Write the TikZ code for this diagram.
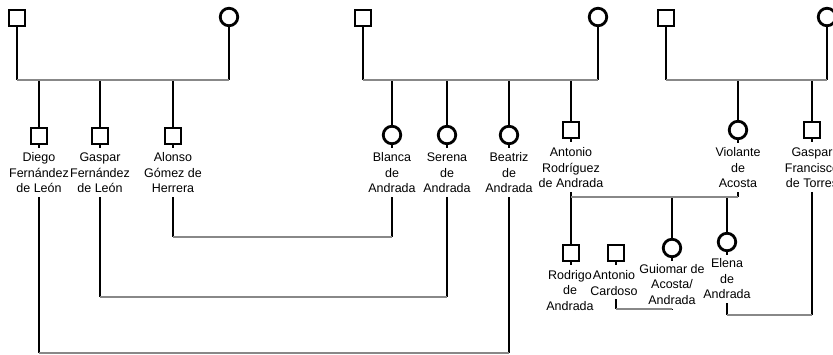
\documentclass[tikz,border=0pt]{standalone}
\usepackage{fontspec}
\setmainfont{Liberation Sans}
\definecolor{bargray}{HTML}{888888}
\begin{document}
\begin{tikzpicture}[x=1pt,y=-1pt,
  male/.style={draw, rectangle, line width=2.8pt, minimum size=16pt, inner sep=0pt},
  female/.style={draw, circle, line width=2.8pt, minimum size=17.5pt, inner sep=0pt},
  lbl/.style={font=\fontsize{12.5}{15.5}\selectfont, align=center, inner sep=0pt, outer sep=4pt},
  kin/.style={line width=2.4pt, black},
  bar/.style={line width=2.8pt, bargray}]
\useasboundingbox (0,0) rectangle (833,355);

% generation 1
\node[male] (p1) at (17,18) {};
\node[female] (p2) at (229,17) {};
\node[male] (p3) at (363,18) {};
\node[female] (p4) at (598,17) {};
\node[male] (p5) at (666,18) {};
\node[female] (p6) at (827,17) {};

% levels
\coordinate (lv0) at (0,80);
\coordinate (lv1) at (0,197);
\coordinate (m1) at (0,237);
\coordinate (m2) at (0,297);
\coordinate (m3) at (0,353);
\coordinate (m4) at (0,309);
\coordinate (m5) at (0,315);

% generation 2
\node[male] (diego) at (39,136) {};
\node[male] (gaspar) at (100,136) {};
\node[male] (alonso) at (173,136) {};
\node[female] (blanca) at (392,135) {};
\node[female] (serena) at (447,135) {};
\node[female] (beatriz) at (509,135) {};
\node[male] (antonio) at (571,130) {};
\node[female] (violante) at (738,130) {};
\node[male] (gaspart) at (812,130) {};

\node[lbl] (diegoL) at (39,173) {Diego\\Fernández\\de León};
\node[lbl] (gasparL) at (100,173) {Gaspar\\Fernández\\de León};
\node[lbl] (alonsoL) at (173,173) {Alonso\\Gómez de\\Herrera};
\node[lbl] (blancaL) at (392,173) {Blanca\\de\\Andrada};
\node[lbl] (serenaL) at (447,173) {Serena\\de\\Andrada};
\node[lbl] (beatrizL) at (509,173) {Beatriz\\de\\Andrada};
\node[lbl] (antonioL) at (571,168) {Antonio\\Rodríguez\\de Andrada};
\node[lbl] (violanteL) at (738,168) {Violante\\de\\Acosta};
\node[lbl] (gaspartL) at (812,168) {Gaspar\\Francisco\\de Torres};

% generation 3
\node[male] (rodrigo) at (571,253) {};
\node[male] (cardoso) at (616,253) {};
\node[female] (guiomar) at (672,248) {};
\node[female] (elena) at (727,242) {};

\node[lbl] (rodrigoL) at (570,290.5) {Rodrigo\\de\\Andrada};
\node[lbl] (cardosoL) at (614,283) {Antonio\\Cardoso};
\node[lbl] (guiomarL) at (672,284.5) {Guiomar de\\Acosta/\\Andrada};
\node[lbl] (elenaL) at (727,279) {Elena\\de\\Andrada};

% ticks under symbols
\foreach \n in {diego,gaspar,alonso,blanca,serena,beatriz,antonio,violante,gaspart,rodrigo,cardoso,guiomar,elena}
  \draw[kin] (\n.south) -- ++(0,3);

% parents to sibling bars
\foreach \n in {p1,p2,p3,p4,p5,p6}
  \draw[kin] (\n) -- (\n |- lv0);
\foreach \n in {diego,gaspar,alonso,blanca,serena,beatriz,antonio,violante,gaspart}
  \draw[kin] (\n |- lv0) -- (\n);
\draw[bar] (p1 |- lv0) -- (p2 |- lv0);
\draw[bar] (p3 |- lv0) -- (p4 |- lv0);
\draw[bar] (p5 |- lv0) -- (p6 |- lv0);

% marriages of generation 2
\draw[kin] (alonsoL.south) -- (alonsoL.south |- m1);
\draw[kin] (blancaL.south) -- (blancaL.south |- m1);
\draw[bar] (alonsoL.south |- m1) -- (blancaL.south |- m1);

\draw[kin] (gasparL.south) -- (gasparL.south |- m2);
\draw[kin] (serenaL.south) -- (serenaL.south |- m2);
\draw[bar] (gasparL.south |- m2) -- (serenaL.south |- m2);

\draw[kin] (diegoL.south) -- (diegoL.south |- m3);
\draw[kin] (beatrizL.south) -- (beatrizL.south |- m3);
\draw[bar] (diegoL.south |- m3) -- (beatrizL.south |- m3);

\draw[kin] (antonioL.south) -- (antonioL.south |- lv1);
\draw[kin] (violanteL.south) -- (violanteL.south |- lv1);
\foreach \n in {rodrigo,guiomar,elena}
  \draw[kin] (\n |- lv1) -- (\n);
\draw[bar] (antonioL.south |- lv1) -- (violanteL.south |- lv1);

% marriages of generation 3
\draw[kin] (cardoso |- cardosoL.south) -- (cardoso |- m4);
\draw[kin] (guiomarL.south) -- (guiomarL.south |- m4);
\draw[bar] (cardoso |- m4) -- (guiomarL.south |- m4);

\draw[kin] (elenaL.south) -- (elenaL.south |- m5);
\draw[kin] (gaspartL.south) -- (gaspartL.south |- m5);
\draw[bar] (elenaL.south |- m5) -- (gaspartL.south |- m5);
\end{tikzpicture}
\end{document}
